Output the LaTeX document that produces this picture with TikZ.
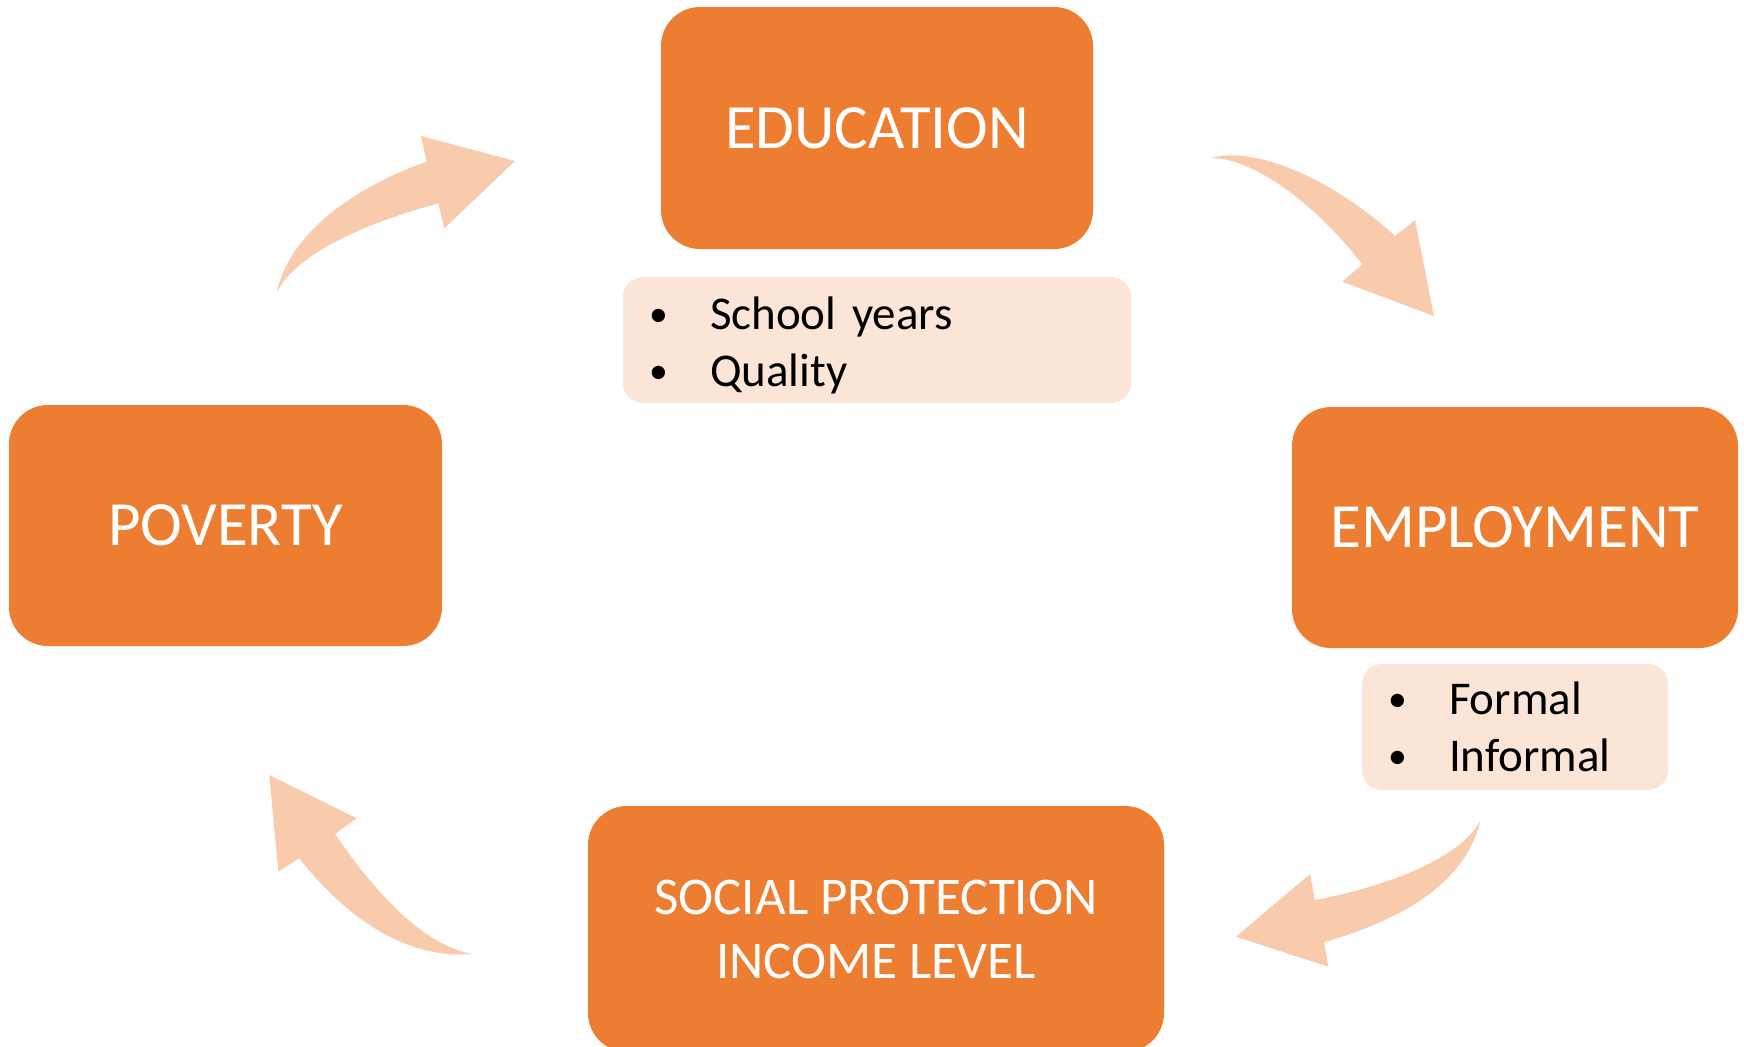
\documentclass[tikz,border=0pt]{standalone}
\usepackage{fontspec}
\setmainfont{Carlito}
\definecolor{boxorange}{HTML}{ED7D31}
\definecolor{listpeach}{HTML}{FBE5D6}
\definecolor{arrowpeach}{HTML}{F8CBAD}
\newcommand{\listbullet}{\makebox[30.5pt][l]{\raisebox{1.6pt}{\scalebox{0.8}{\textbullet}}}}
\begin{document}
\begin{tikzpicture}[x=0.5pt,y=-0.5pt,
  topic/.style={fill=boxorange,rounded corners=19.5pt,inner sep=0pt,text=white,
    align=center,font=\fontsize{31.5}{38}\selectfont},
  itemlist/.style={fill=listpeach,rounded corners=10pt,inner xsep=13pt,inner ysep=0pt,
    minimum height=63pt,align=left,font=\fontsize{23.5}{28.5}\selectfont},
  bendarrow/.style={fill=arrowpeach}]
\useasboundingbox (0,0) rectangle (1744,1046);
\clip (0,0) rectangle (1744,1046);

% curved arrows round the cycle
\fill[bendarrow] (276.7,292.7) .. controls (290,230) and (360,185) .. (426.7,161.7)
  -- (421,136) -- (515,161) -- (444.3,228.3) -- (438.3,203.3)
  .. controls (360,225) and (295,255) .. cycle;
\fill[bendarrow] (1211.7,157.7) .. controls (1260,145) and (1340,185) .. (1395,236)
  -- (1415,220) -- (1434,316) -- (1342.3,281.7) -- (1362.3,264.3)
  .. controls (1320,210) and (1260,160) .. cycle;
\fill[bendarrow] (1480.7,820) .. controls (1460,860) and (1380,888) .. (1315,900)
  -- (1310,874) -- (1236,936.7) -- (1328.3,966.7) -- (1324,942.3)
  .. controls (1400,920) and (1465,885) .. cycle;
\fill[bendarrow] (269.3,775) -- (356.7,818.3) -- (335,834)
  .. controls (370,885) and (420,945) .. (472.7,954)
  .. controls (400,960) and (340,910) .. (299.3,858.3) -- (278.3,871.7) -- cycle;

% main boxes
\node[topic,minimum width=216pt,minimum height=121pt] (edu) at (877,128) {EDUCATION};
\node[topic,minimum width=223pt,minimum height=120.5pt] (emp) at (1515,527.5) {EMPLOYMENT};
\node[topic,minimum width=216.5pt,minimum height=120.5pt] (pov) at (225.5,525.5) {POVERTY};
\node[topic,minimum width=288pt,minimum height=123pt,
  font=\fontsize{26.5}{32}\selectfont] (soc) at (876,929) {SOCIAL PROTECTION\\INCOME LEVEL};

% bullet lists
\node[itemlist,text width=228pt] (edulist) at (877,340)
  {\rule{0pt}{22pt}\listbullet School years\\\listbullet Quality};
\node[itemlist,text width=127pt] (emplist) at (1515,727)
  {\listbullet Formal\\\listbullet Informal};
\end{tikzpicture}
\end{document}
